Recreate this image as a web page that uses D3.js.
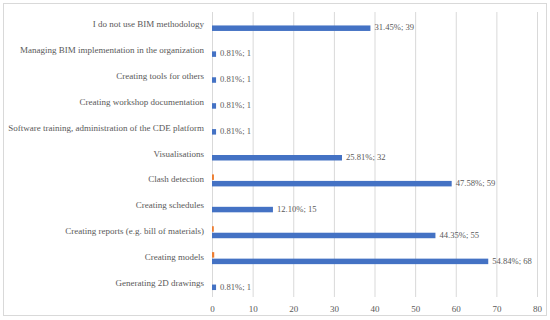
<!DOCTYPE html>
<html>
<head>
<meta charset="utf-8">
<script src="https://cdn.jsdelivr.net/npm/d3@7"></script>
<style>
  body { margin: 0; background: #fff; }
  text { font-family: "Liberation Serif", "DejaVu Serif", serif; fill: #595959; }
</style>
</head>
<body>
<script>
var categories = [
  "I do not use BIM methodology",
  "Managing BIM implementation in the organization",
  "Creating tools for others",
  "Creating workshop documentation",
  "Software training, administration of the CDE platform",
  "Visualisations",
  "Clash detection",
  "Creating schedules",
  "Creating reports (e.g. bill of materials)",
  "Creating models",
  "Generating 2D drawings"
]
var counts = [39, 1, 1, 1, 1, 32, 59, 15, 55, 68, 1]
var percents = ["31.45%", "0.81%", "0.81%", "0.81%", "0.81%", "25.81%", "47.58%", "12.10%", "44.35%", "54.84%", "0.81%"]
// second (orange) series, nearly invisible in the original
var shares = [0, 0, 0, 0, 0, 0, 0.4758, 0, 0.4435, 0.5484, 0]
var xTicks = [0, 10, 20, 30, 40, 50, 60, 70, 80]

var width = 550, height = 320
var margin = { top: 12, right: 13, bottom: 23, left: 212 }

var svg = d3.select("body")
  .append("svg")
    .attr("width", width)
    .attr("height", height)

svg.append("rect")
  .attr("x", 3.5).attr("y", 3.5)
  .attr("width", 543).attr("height", 312)
  .attr("fill", "#fff")
  .attr("stroke", "#d9d9d9")

var x = d3.scaleLinear()
  .domain([0, 80])
  .range([margin.left, width - margin.right])

var y = d3.scaleBand()
  .domain(categories)
  .range([margin.top, height - margin.bottom])

var barH = 5.5

// grid lines
svg.append("g")
  .selectAll("line")
  .data(xTicks)
  .enter()
  .append("line")
    .attr("x1", d => x(d) + 0.5)
    .attr("x2", d => x(d) + 0.5)
    .attr("y1", margin.top)
    .attr("y2", height - margin.bottom)
    .attr("stroke", "#d9d9d9")

// x tick labels
var xAxis = svg.append("g")
  .attr("transform", "translate(0," + (height - margin.bottom) + ")")
  .call(d3.axisBottom(x).tickValues(xTicks).tickSize(0).tickPadding(9))
xAxis.select(".domain").remove()
xAxis.selectAll("text")
  .style("font-family", "Liberation Serif, serif")
  .style("font-size", "9px")
  .attr("fill", "#595959")

// category labels
svg.append("g")
  .selectAll("text")
  .data(categories)
  .enter()
  .append("text")
    .attr("x", margin.left - 8)
    .attr("y", d => y(d) + y.bandwidth() / 2)
    .attr("text-anchor", "end")
    .attr("dominant-baseline", "middle")
    .style("font-size", "9px")
    .text(d => d)

// orange series
svg.append("g")
  .selectAll("rect")
  .data(shares)
  .enter()
  .append("rect")
    .attr("x", x(0))
    .attr("y", (d, i) => y(categories[i]) + y.bandwidth() / 2 - barH - 0.5)
    .attr("width", d => x(d) - x(0))
    .attr("height", barH)
    .attr("fill", "#ED7D31")

// blue series
svg.append("g")
  .selectAll("rect")
  .data(counts)
  .enter()
  .append("rect")
    .attr("x", x(0))
    .attr("y", (d, i) => y(categories[i]) + y.bandwidth() / 2 + 0.5)
    .attr("width", d => x(d) - x(0))
    .attr("height", barH)
    .attr("fill", "#4472C4")

// value labels
svg.append("g")
  .selectAll("text")
  .data(counts)
  .enter()
  .append("text")
    .attr("x", d => x(d) + 4)
    .attr("y", (d, i) => y(categories[i]) + y.bandwidth() / 2 + 3.5)
    .attr("dominant-baseline", "middle")
    .style("font-size", "8.6px")
    .text((d, i) => percents[i] + "; " + d)
</script>
</body>
</html>
